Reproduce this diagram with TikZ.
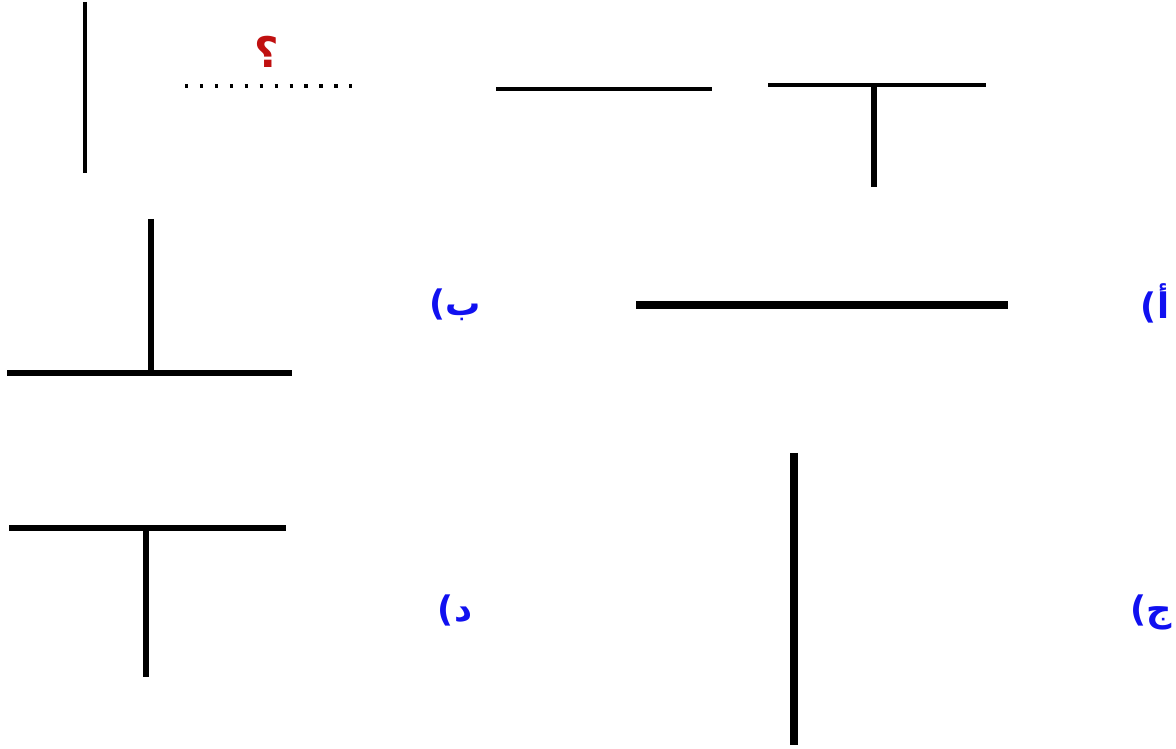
\documentclass[tikz,border=0pt]{standalone}
\usepackage{fontspec}
\usepackage{xcolor}
\usetikzlibrary{positioning}
\TeXXeTstate=1
\newfontfamily\arabicfont[Script=Arabic]{DejaVu Sans}
\definecolor{optBlue}{HTML}{1010F0}
\definecolor{askRed}{HTML}{C01010}

\begin{document}
\begin{tikzpicture}[x=0.02cm, y=-0.02cm,
  thinseg/.style={line width=2.3pt, black},
  midseg/.style={line width=3.1pt, black},
  boldseg/.style={line width=4.5pt, black},
  hint/.style={line width=2pt, dash pattern=on 1.8pt off 6.7pt},
  choice/.style={font=\arabicfont\bfseries\fontsize{20}{22}\selectfont, text=optBlue, inner sep=0pt}
]
  \useasboundingbox (0,0) rectangle (1176,749);
  % question row
  \draw[thinseg] (85,2) -- (85,173);
  \draw[hint] (185,86) -- (352,86);
  \node[font=\arabicfont\bfseries\fontsize{24}{26}\selectfont, text=askRed, inner sep=0pt] (ask) at (267,52) {\beginR ؟\endR};
  \draw[thinseg] (496,89) -- (712,89);
  \draw[thinseg] (768,85) -- (986,85);
  \draw[midseg] (874,85) -- (874,187);
  % option b
  \draw[midseg] (151,219) -- (151,373);
  \draw[midseg] (7,373) -- (292,373);
  \node[choice] (optB) at (455,305) {\beginR ب)\endR};
  % option a
  \draw[boldseg] (636,305) -- (1008,305);
  \node[choice] (optA) at (1155,303) {\beginR أ)\endR};
  % option d
  \draw[midseg] (9,528) -- (286,528);
  \draw[midseg] (146,528) -- (146,677);
  \node[choice] (optD) at (455,610) {\beginR د)\endR};
  % option j
  \draw[boldseg] (794,453) -- (794,745);
  \node[choice] (optJ) at (1151,612) {\beginR ج)\endR};
\end{tikzpicture}
\end{document}
